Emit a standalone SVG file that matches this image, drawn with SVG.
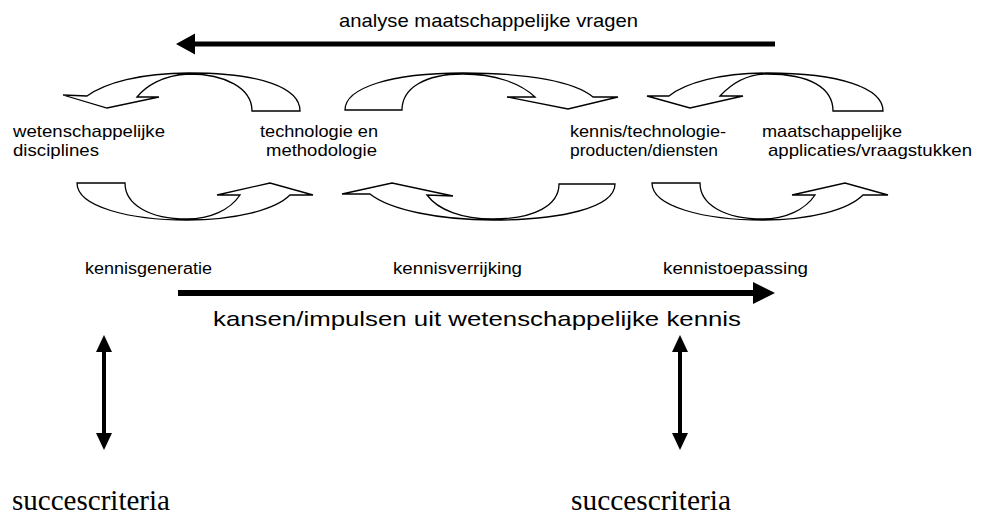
<svg xmlns="http://www.w3.org/2000/svg" width="988" height="518" viewBox="0 0 988 518">
<style>
.bg{fill:#ffffff}
.carrow{fill:#ffffff;stroke:#000000;stroke-width:1.3;stroke-linejoin:miter}
.lbl{font-family:"Liberation Sans",Arial,sans-serif;font-size:17px;fill:#000000}
.phase{font-family:"Liberation Sans",Arial,sans-serif;font-size:16px;fill:#000000}
.big{font-family:"Liberation Sans",Arial,sans-serif;font-size:21px;fill:#000000}
.title{font-family:"Liberation Sans",Arial,sans-serif;font-size:19px;fill:#000000}
.crit{font-family:"Liberation Serif","Times New Roman",serif;font-size:29px;fill:#000000}
.shaft{stroke:#000000;fill:none}
.head{fill:#000000}
</style>
<rect class="bg" x="0" y="0" width="988" height="518"/>

<g id="connectors">
  <g id="top-arrow">
    <line class="shaft" x1="775" y1="44" x2="192" y2="44" stroke-width="5"/>
    <polygon class="head" points="176,44 195,33.5 195,54.5"/>
  </g>
  <g id="bottom-arrow">
    <line class="shaft" x1="178" y1="293" x2="756" y2="293" stroke-width="6"/>
    <polygon class="head" points="775,293 753,282 753,304"/>
  </g>
  <g id="double-arrow-left">
    <line class="shaft" x1="104" y1="348" x2="104" y2="437" stroke-width="4"/>
    <polygon class="head" points="104,335 96,352 112,352"/>
    <polygon class="head" points="104,450 96,433 112,433"/>
  </g>
  <g id="double-arrow-right">
    <line class="shaft" x1="680" y1="348" x2="680" y2="437" stroke-width="4"/>
    <polygon class="head" points="680,335 672,352 688,352"/>
    <polygon class="head" points="680,450 672,433 688,433"/>
  </g>
  <g id="cycle-arrows">
    <path id="ca1" class="carrow" d="M 300,111 C 300,88 262,73 189,73 C 140,73 105,83 87,96 L 63,95 L 107,108 L 159,97 L 137,97 C 145,87 162,75 189,74 C 225,74 252,88 252,111 Z"/>
    <path id="ca2" class="carrow" d="M 345,110 C 345,88 390,73 463,73 C 530,73 575,82 593,97 L 618,97 L 568,109 L 507,97 L 535,97 C 520,83 495,74 463,74 C 425,74 402,88 402,110 Z"/>
    <path id="ca3" class="carrow" d="M 883,111 C 883,88 840,73 767,73 C 720,73 685,83 669,96 L 647,96 L 690,108 L 743,96 L 720,96 C 732,83 748,74 767,74 C 810,74 833,88 833,111 Z"/>
    <path id="ca4" class="carrow" d="M 77,183 C 77,207 130,220 187,220 C 235,220 275,210 290,195 L 313,195 L 270,183 L 217,195 L 240,195 C 230,210 210,219 187,219 C 150,219 125,205 125,183 Z"/>
    <path id="ca5" class="carrow" d="M 615,184 C 615,208 560,220 493,220 C 440,220 390,210 370,194 L 342,194 L 392,183 L 453,196 L 427,195 C 438,210 462,219 493,219 C 535,219 559,205 559,184 Z"/>
    <path id="ca6" class="carrow" d="M 652,183 C 652,207 705,220 763,220 C 810,220 848,210 863,195 L 888,195 L 845,183 L 792,195 L 815,195 C 805,210 785,219 763,219 C 725,219 700,205 700,183 Z"/>
  </g>
</g>

<g id="title">
  <text class="title" x="339" y="27" textLength="299" lengthAdjust="spacingAndGlyphs">analyse maatschappelijke vragen</text>
</g>

<g id="node-disciplines">
  <text class="lbl" x="13" y="137" textLength="152" lengthAdjust="spacingAndGlyphs">wetenschappelijke</text>
  <text class="lbl" x="13" y="156" textLength="86" lengthAdjust="spacingAndGlyphs">disciplines</text>
</g>
<g id="node-technologie">
  <text class="lbl" x="260" y="137" textLength="118" lengthAdjust="spacingAndGlyphs">technologie en</text>
  <text class="lbl" x="266" y="156" textLength="111" lengthAdjust="spacingAndGlyphs">methodologie</text>
</g>
<g id="node-producten">
  <text class="lbl" x="570" y="137" textLength="156" lengthAdjust="spacingAndGlyphs">kennis/technologie-</text>
  <text class="lbl" x="570" y="156" textLength="148" lengthAdjust="spacingAndGlyphs">producten/diensten</text>
</g>
<g id="node-applicaties">
  <text class="lbl" x="762" y="137" textLength="140" lengthAdjust="spacingAndGlyphs">maatschappelijke</text>
  <text class="lbl" x="768" y="156" textLength="204" lengthAdjust="spacingAndGlyphs">applicaties/vraagstukken</text>
</g>

<g id="node-kennisgeneratie">
  <text class="phase" x="85" y="274" textLength="127" lengthAdjust="spacingAndGlyphs">kennisgeneratie</text>
</g>
<g id="node-kennisverrijking">
  <text class="phase" x="393" y="274" textLength="129" lengthAdjust="spacingAndGlyphs">kennisverrijking</text>
</g>
<g id="node-kennistoepassing">
  <text class="phase" x="663" y="274" textLength="145" lengthAdjust="spacingAndGlyphs">kennistoepassing</text>
</g>

<g id="label-kansen">
  <text class="big" x="213" y="326" textLength="528" lengthAdjust="spacingAndGlyphs">kansen/impulsen uit wetenschappelijke kennis</text>
</g>

<g id="node-succes-left">
  <text class="crit" x="12" y="510" textLength="158" lengthAdjust="spacingAndGlyphs">succescriteria</text>
</g>
<g id="node-succes-right">
  <text class="crit" x="571" y="510" textLength="160" lengthAdjust="spacingAndGlyphs">succescriteria</text>
</g>
</svg>
